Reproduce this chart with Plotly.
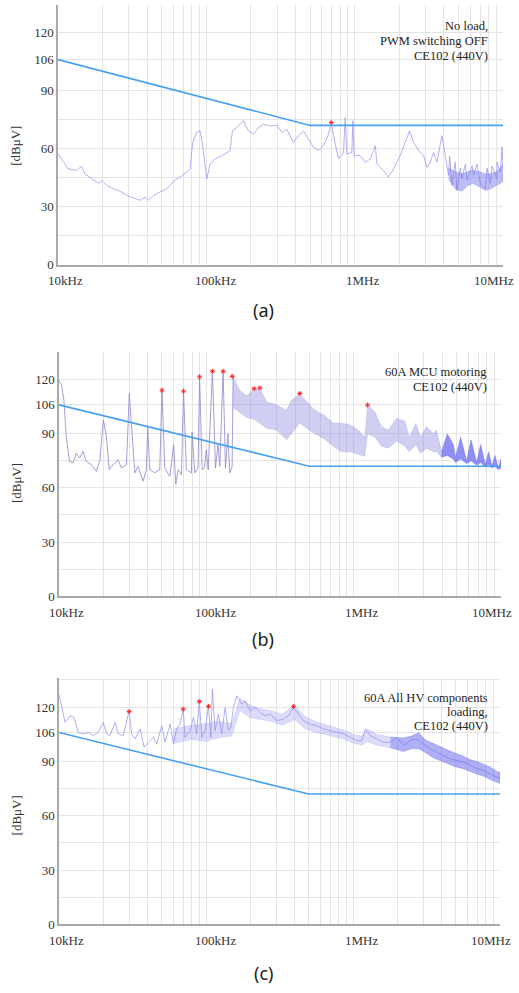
import math
import plotly.graph_objects as go

# ---------------- data ----------------
limit_freq = [10, 500, 10000]          # kHz
limit_level = [106, 72, 72]            # dBuV

# (a) No load, PWM switching OFF
a_freq = [10, 11, 11.7, 13.4, 14.4, 15.2, 16.9, 18.7, 19.7, 21.3, 23.6, 26.2, 29.1, 32.2, 35.7, 38.6,
          40.7, 44, 48.8, 54.1, 60, 66.5, 73.8, 77.6, 80.9, 86.1, 90.7, 93.1, 96.6, 100.7, 106, 114.6,
          127, 144.6, 150, 160.4, 178, 192, 208, 224.6, 242.7, 269, 298.5, 322.8, 349, 387, 418, 452,
          488.5, 527, 570, 616.6, 666.8, 695, 720, 778, 841, 863, 885, 957, 972, 993, 1089, 1178, 1274,
          1377, 1413, 1567, 1690, 1828, 2028, 2193, 2344, 2495, 2698, 2917, 3069, 3236, 3404, 3589,
          3873, 4083, 4295, 4370, 4529, 4770, 4887, 5160, 5284, 5580, 5715, 6190, 6339, 6690, 7031,
          7603, 7800, 8204, 8440, 9099, 9120, 9594, 9860, 10000]
a_level = [57.3, 53, 49.6, 48.7, 51, 47, 44.4, 42.2, 43.6, 41, 39.3, 38, 35.9, 34.5, 33.3, 35,
           33.3, 35.9, 37.6, 39.3, 43, 45.3, 47.9, 49.6, 63.2, 68.4, 69.2, 65, 56.4, 44.4, 52, 54.7,
           56.4, 59, 69.2, 70.9, 74.4, 69.2, 67.5, 70.9, 72.6, 71.8, 72.1, 68.4, 70, 63.2, 66.7, 69.2,
           65, 60.7, 59, 61.5, 67.5, 73.5, 66.7, 54.7, 58, 76, 57.3, 58, 74.4, 56.4, 56.4, 53, 54.7,
           61.5, 52, 48.7, 45.3, 49.6, 56.4, 63.2, 69.2, 63.2, 59, 56.4, 50.4, 53, 58, 53,
           66.7, 56.4, 46.2, 56, 41, 53, 38.5, 50, 44.4, 52, 43.6, 51, 46.2, 52, 41.9,
           39.3, 50, 41.9, 51, 44.4, 53, 47.9, 61, 50]
a_band_freq = [4300, 4800, 5300, 5800, 6300, 7000, 7600, 8200, 9000, 9600, 10000]
a_band_lo = [44, 39, 38, 41, 42, 40, 38.5, 39, 41, 42, 43]
a_band_hi = [50, 48, 47, 48, 49, 48, 47, 47, 48, 50, 52]
a_peak_freq = [695]
a_peak_level = [73.5]

# (b) 60A MCU motoring
b_freq = [10, 10.4, 10.8, 11.2, 11.8, 12.45, 13.1, 13.8, 14.55, 15.3, 16.6, 17.9, 18.9, 20, 21, 21.9,
          23.3, 25.2, 26.5, 28.7, 30, 31.3, 32.7, 34.4, 37.2, 39.2, 40, 41.3, 44.6, 48.3, 50, 52.2,
          56.5, 60, 62, 64.3, 67.8, 70, 73.2, 79.2, 80, 83.5, 87.9, 90, 93.6, 97, 100, 103, 110,
          115.3, 120, 123.4, 130, 134.8, 140, 144.2, 149.6, 152]
b_level = [119.6, 116.9, 108.6, 88.4, 74.7, 73.8, 79.3, 76.5, 80.2, 74.7, 72.8, 69.2, 74.7, 97.6, 88.4, 70.1,
           72.8, 75.6, 71, 72.8, 112.3, 88.4, 68.3, 71.9, 63.7, 70.1, 93.9, 70.1, 68.3, 70.1, 114.1, 71,
           66.4, 84, 62, 70.1, 67.3, 114.1, 70.1, 68.3, 91, 68.3, 71, 121.5, 70.1, 71, 81, 70, 125.1,
           71, 84, 71.9, 125.1, 71, 90, 68.3, 71.9, 121.8]
b_band_freq = [152, 156, 169, 187, 211, 231, 256, 299, 350, 378, 431, 479, 545, 637, 726, 828, 942,
               1074, 1191, 1242, 1393, 1546, 1717, 1955, 2228, 2384, 2644, 2844, 3124, 3467, 3654, 3951]
b_band_lo = [104, 104, 102, 99, 98, 95.8, 93, 92, 86.6, 90, 96, 93, 90, 87, 83, 80, 80,
             78.5, 77.5, 90, 88, 83, 82, 86, 83, 80, 84, 79, 82, 80, 80, 77]
b_band_hi = [121.8, 119.6, 114, 111, 115, 115.4, 107.7, 106, 103, 108.6, 112, 108, 103, 100, 96, 95.8, 95,
             92, 88, 106, 102, 94, 92, 98.5, 97, 88, 95.8, 88, 94, 90, 92, 80]
b_arch_freq = [3951, 4318, 4743, 4920, 5320, 5847, 6254, 6839, 7278, 7824, 8241, 8686, 9099, 9594, 10000]
b_arch_lo = [77, 78, 76, 74, 76, 73.5, 75, 72.5, 74, 71.5, 73, 71, 72, 70, 71]
b_arch_hi = [80, 90, 84, 77, 88, 75, 86.6, 74, 84, 73, 80, 72, 78, 71, 76]
b_peak_freq = [50, 70, 90, 110, 130, 150, 211, 231, 431, 1242]
b_peak_level = [114.1, 113.6, 121.5, 124.6, 124.6, 121.8, 115, 115.4, 112.3, 105.9]

# (c) 60A All HV components loading
c_freq = [10, 10.4, 11, 11.9, 12.65, 13.5, 14.6, 15.8, 17.1, 18.5, 20, 21.1, 22.2, 24.1, 25.3, 27.4,
          30, 31.2, 32.9, 35.6, 37.9, 40.6, 43.9, 46.2, 50, 52.7, 57, 60, 63.2, 66.6, 70, 72, 78,
          82.1, 86.5, 90, 93.6, 98.6, 104, 107.8, 110.6, 115.3, 121.5, 128, 134.9, 142.1, 147.4,
          153.8, 162, 175.2, 184.6, 199.6, 215.9, 233.5, 252.5, 273.2, 303.2, 336.6, 364, 393.7,
          425.8, 460.5, 511.3, 567.5, 630.1, 699.6, 776.7, 862.3, 957.2, 1062, 1149, 1211, 1310,
          1454, 1614, 1792, 1989, 2208, 2451, 2721, 3021, 3354, 3723, 4133, 4588, 5094, 5655,
          6279, 6969, 7737, 8590, 9537, 10000]
c_level = [127, 119.8, 111.6, 115.2, 114.3, 106, 105.2, 106, 104.3, 106, 111.6, 105.2, 104.3, 111.6, 105.2, 104.3,
           118, 105.2, 102.4, 108, 97.9, 100.6, 103.3, 99.7, 109.7, 100.6, 110.7, 99.7, 108, 110.7, 118.9, 103.3, 107,
           114.3, 105.2, 123.5, 103.3, 107, 120.7, 103.3, 129.9, 107, 116.2, 105.2, 119.8, 107, 108.8,
           119.8, 126.2, 121.6, 123.5, 118, 119.8, 117, 115.2, 116.2, 112.5, 113.4, 115.2, 119.8,
           116.2, 112.5, 110.7, 109.7, 108, 107, 106, 105.2, 103.3, 101.5, 101.5, 108, 104.3,
           102.4, 100.6, 100.6, 103.3, 98.8, 101.5, 102.4, 99.7, 96.9, 95.1, 93.3, 91.5, 90.5, 89.6,
           87.8, 86, 85, 83.2, 81.4, 80.5]
c_band_freq = [60, 80, 100, 120, 150, 170, 200, 240, 280, 330, 400, 470, 560, 700, 850, 1000, 1150,
               1250, 1450, 1800]
c_band_lo = [100, 102, 101, 103, 104, 118, 114, 113, 112, 110, 113, 108, 106, 104, 102.5, 100, 99,
             101, 99, 97.5]
c_band_hi = [108, 110, 111, 112, 111, 125, 121, 119, 118, 116, 121, 115, 112, 109.5, 107.5, 105, 104,
             108, 105, 103.5]
c_dense_freq = [1800, 2200, 2500, 2800, 3100, 3500, 4000, 4500, 5000, 5600, 6300, 7000, 7700, 8600, 9500, 10000]
c_dense_lo = [97.5, 95.5, 97, 97, 95, 92, 90, 88.5, 87, 86, 84.5, 83, 82, 80, 78.5, 78]
c_dense_hi = [103.5, 103, 104, 106, 102, 100, 97.5, 96, 94.5, 93, 91, 90, 88.5, 87, 84.5, 84]
c_peak_freq = [30, 70, 90, 104, 394]
c_peak_level = [117.6, 118.9, 123.1, 120.4, 120.4]

x_tick_vals = [10, 100, 1000, 10000]
x_tick_text = ["10kHz", "100kHz", "1MHz", "10MHz"]
y_tick_vals = [0, 30, 60, 90, 106, 120]
y_minor_vals = [15, 45, 75, 135]
x_minor_vals = [20, 30, 40, 50, 60, 70, 80, 90, 200, 300, 400, 500, 600, 700, 800, 900,
                2000, 3000, 4000, 5000, 6000, 7000, 8000, 9000]

# ---------------- styling ----------------
W, H = 519, 993
SERIF = "Liberation Serif, Times New Roman, Times, DejaVu Serif, serif"
LIMIT_COLOR = "#47A0F2"
GRID = "#E4E4E4"
AXLINE = "#A9A9A9"

panels = [
    dict(xpx=(58, 503), ypx=(5, 267), ymax=134.2),
    dict(xpx=(59, 501), ypx=(355, 601), ymax=135.2),
    dict(xpx=(59, 500), ypx=(684, 932), ymax=135.8),
]

fig = go.Figure()


def band(freq, lo, hi, color, n, lw=0.6):
    fig.add_trace(go.Scatter(x=freq + freq[::-1], y=hi + lo[::-1], mode="lines",
                             fill="toself", fillcolor=color, line=dict(color=color, width=lw),
                             xaxis=f"x{n}", yaxis=f"y{n}", hoverinfo="skip"))


def line(freq, lvl, color, n, w=1.0):
    fig.add_trace(go.Scatter(x=freq, y=lvl, mode="lines", line=dict(color=color, width=w),
                             xaxis=f"x{n}", yaxis=f"y{n}"))


def limit(n):
    fig.add_trace(go.Scatter(x=limit_freq, y=limit_level, mode="lines",
                             line=dict(color=LIMIT_COLOR, width=1.6), xaxis=f"x{n}", yaxis=f"y{n}"))


def peaks(freq, lvl, n):
    fig.add_trace(go.Scatter(x=freq, y=lvl, mode="markers",
                             marker=dict(symbol="asterisk-open", size=4, color="#FF2A2A",
                                         line=dict(color="#FF2A2A", width=1)),
                             xaxis=f"x{n}", yaxis=f"y{n}"))


# panel (a)
line(a_freq, a_level, "rgba(150,150,240,0.75)", "")
band(a_band_freq, a_band_lo, a_band_hi, "rgba(110,110,235,0.45)", "")
limit("")
peaks(a_peak_freq, a_peak_level, "")

# panel (b)
line(b_freq, b_level, "rgba(140,135,205,0.8)", 2)
band(b_band_freq, b_band_lo, b_band_hi, "rgba(140,135,220,0.4)", 2)
band(b_arch_freq, b_arch_lo, b_arch_hi, "rgba(105,105,240,0.75)", 2)
limit(2)
peaks(b_peak_freq, b_peak_level, 2)

# panel (c)
line(c_freq, c_level, "rgba(150,150,240,0.75)", 3)
band(c_band_freq, c_band_lo, c_band_hi, "rgba(140,140,238,0.3)", 3)
band(c_dense_freq, c_dense_lo, c_dense_hi, "rgba(110,110,238,0.55)", 3)
limit(3)
peaks(c_peak_freq, c_peak_level, 3)

layout = dict(width=W, height=H, margin=dict(l=0, r=0, t=0, b=0), paper_bgcolor="white",
              plot_bgcolor="white", showlegend=False)

annotations = []
label_font = dict(family=SERIF, size=13, color="#333")
for i, p in enumerate(panels):
    n = "" if i == 0 else str(i + 1)
    x0, x1 = p["xpx"]
    t, b = p["ypx"]
    layout[f"xaxis{n}"] = dict(type="log", range=[1, 4], domain=[x0 / W, x1 / W], anchor=f"y{n}",
                               showline=True, linecolor=AXLINE, linewidth=1.5, ticks="",
                               tickvals=x_tick_vals, showticklabels=False, showgrid=True,
                               gridcolor=GRID, gridwidth=1, zeroline=False,
                               minor=dict(tickvals=x_minor_vals, showgrid=True, gridcolor=GRID,
                                          gridwidth=1, ticks=""))
    layout[f"yaxis{n}"] = dict(range=[0, p["ymax"]], domain=[1 - b / H, 1 - t / H], anchor=f"x{n}",
                               showline=True, linecolor=AXLINE, linewidth=1.5, ticks="",
                               tickvals=y_tick_vals, showgrid=True, gridcolor=GRID, gridwidth=1,
                               zeroline=False, tickfont=label_font,
                               minor=dict(tickvals=y_minor_vals, showgrid=True, gridcolor=GRID,
                                          gridwidth=1, ticks=""))
    # x tick labels (offset like the reference)
    specs = [(10, "10kHz", "center", 7), (100, "100kHz", "center", 9),
             (1000, "1MHz", "center", 8), (10000, "10MHz", "right", 13)]
    for v, txt, anc, s in specs:
        annotations.append(dict(x=math.log10(v), xref=f"x{n}", y=0, yref=f"y{n} domain",
                                yanchor="middle", xanchor=anc, yshift=-16, xshift=s,
                                text=txt, showarrow=False, font=label_font))

# y-axis titles
for ycen in [147, 487, 822]:
    annotations.append(dict(x=16 / W, y=1 - ycen / H, xref="paper", yref="paper", text="[dBμV]",
                            textangle=-90, showarrow=False, xanchor="center", yanchor="middle",
                            font=label_font))

# panel captions (right aligned, one annotation per line)
caption_lines = [
    (490, [26, 41.5, 56], ["No load,", "PWM switching OFF", "CE102 (440V)"]),
    (488.5, [375, 390], ["60A MCU motoring", "CE102 (440V)"]),
    (489.5, [704, 718, 732], ["60A All HV components", "loading,", "CE102 (440V)"]),
]
for xr, ys, texts in caption_lines:
    for y, txt in zip(ys, texts):
        annotations.append(dict(x=xr / W, y=1 - y / H, xref="paper", yref="paper", text=txt,
                                xanchor="right", yanchor="middle", showarrow=False,
                                font=dict(family=SERIF, size=12.5, color="#222")))

# sub-figure labels
for ycen, lab in [(313, "(a)"), (644, "(b)"), (981, "(c)")]:
    annotations.append(dict(x=263 / W, y=1 - ycen / H, xref="paper", yref="paper", text=lab,
                            xanchor="center", yanchor="middle", showarrow=False,
                            font=dict(family="Noto Sans", size=18, color="#222")))

layout["annotations"] = annotations
fig.update_layout(**layout)
fig.write_html("out.html", config={"displayModeBar": False},
               post_script="document.body.style.margin='0';document.body.style.overflow='hidden';")
